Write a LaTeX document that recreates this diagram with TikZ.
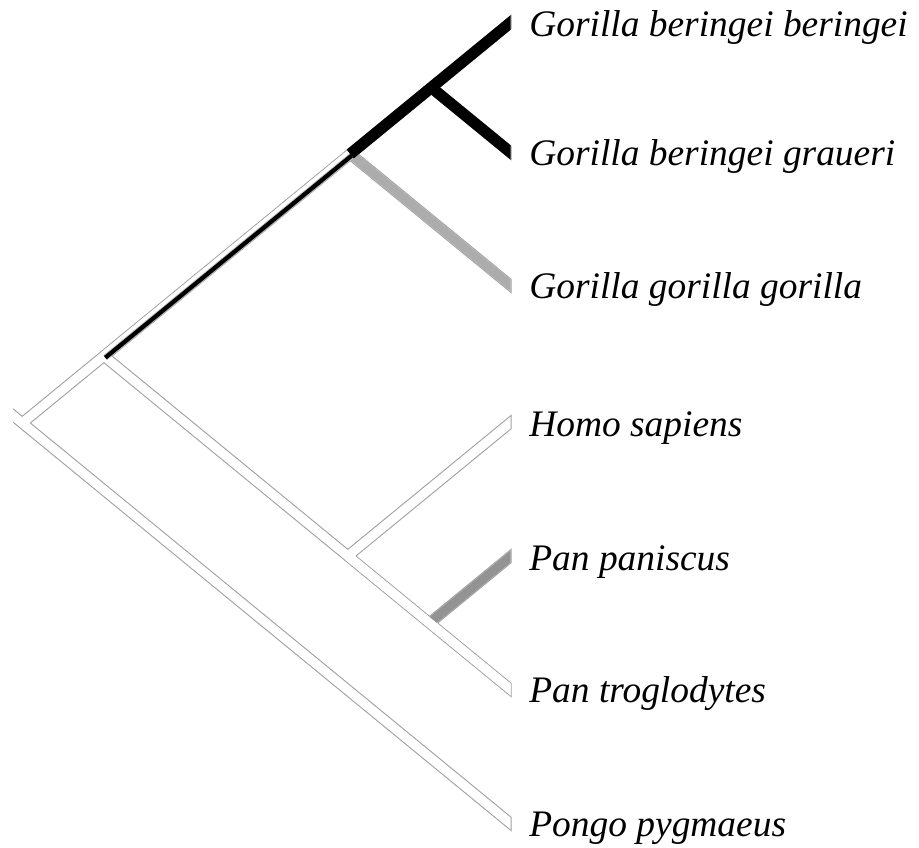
\documentclass[tikz,border=0pt]{standalone}
\usepackage{fontspec}
\setmainfont{Liberation Serif}
\usepackage{xcolor}
\usepackage{tikz}

\begin{document}
\begin{tikzpicture}[x=0.02cm, y=-0.02cm,
			rim/.style={draw=gray!75, line width=6.4pt, line cap=butt},
			core/.style={draw=white, line width=5.2pt, line cap=butt},
			solid bar/.style={draw=black, line width=6.4pt, line cap=butt},
			tipped/.style={shorten >=-8pt},
			band/.style={draw=black, line width=2.4pt, transform canvas={shift={(1.4,1.7)}}},
			taxon/.style={anchor=base west, inner sep=0pt, xshift=0.38cm, yshift=-0.27cm, font=\fontsize{21.3}{26}\selectfont\itshape}
			]
			\useasboundingbox (0,0) rectangle (919,848);
			
			% branch points
			\coordinate (R) at (22.2,423);
			\coordinate (A) at (103.9,356);
			\coordinate (G) at (350.2,154);
			\coordinate (B) at (431.3,87.5);
			\coordinate (H) at (347.8,556);
			\coordinate (P) at (429.5,623);
			
			% tips
			\coordinate (bb) at (510,23);
			\coordinate (bg) at (510,152);
			\coordinate (gg) at (510,285);
			\coordinate (hs) at (510,423);
			\coordinate (pp) at (510,557);
			\coordinate (pt) at (510,689);
			\coordinate (pg) at (510,823);
			
			% outline of all branches
			\begin{scope}
				\clip (13,0) rectangle (511.5,848);
				\foreach \from/\to in {R/bb, A/pt, G/gg, B/bg, H/hs, P/pp}
					\draw[rim, tipped] (\from) -- (\to);
				\draw[rim, tipped, shorten <=-10pt] (R) -- (pg);
			\end{scope}
			
			% inside of the branches
			\begin{scope}
				\clip (13,0) rectangle (510.5,848);
				\foreach \from/\to in {R/bb, A/pt, G/gg, B/bg, H/hs, P/pp}
					\draw[core, tipped] (\from) -- (\to);
				\draw[core, tipped, shorten <=-10pt] (R) -- (pg);
				
				\draw[core, tipped, draw=gray!65] (G) -- (gg);
				\draw[core, tipped, draw=gray!85] (P) -- (pp);
				\draw[core] (A) -- (G);
				\draw[core, tipped] (H) -- (pt);
				
				\draw[band, draw=gray!55, line width=3.4pt] (A) -- (G);
				\draw[band] (A) -- (G);
				
				\draw[solid bar, tipped] (G) -- (bb);
				\draw[solid bar, tipped] (B) -- (bg);
			\end{scope}
			
			\node[taxon] (nbb) at (bb) {Gorilla beringei beringei};
			\node[taxon] (nbg) at (bg) {Gorilla beringei graueri};
			\node[taxon] (ngg) at (gg) {Gorilla gorilla gorilla};
			\node[taxon] (nhs) at (hs) {Homo sapiens};
			\node[taxon] (npp) at (pp) {Pan paniscus};
			\node[taxon] (npt) at (pt) {Pan troglodytes};
			\node[taxon] (npg) at (pg) {Pongo pygmaeus};
		\end{tikzpicture}
\end{document}
